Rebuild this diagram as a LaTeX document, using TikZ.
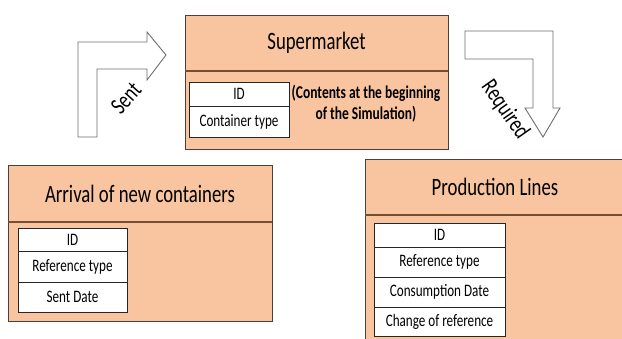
\documentclass[tikz,border=0pt]{standalone}
\usepackage{fontspec}
\setmainfont{Carlito}[FakeStretch=0.75]
\usetikzlibrary{positioning}

\definecolor{peach}{RGB}{248,197,160}
\definecolor{boxline}{RGB}{75,65,58}
\definecolor{divline}{RGB}{120,78,48}
\definecolor{arrowline}{RGB}{110,110,110}

\tikzset{
	boxhead/.style={draw=boxline, fill=peach, anchor=north west, minimum height=56pt, inner sep=0pt, outer sep=0pt, font=\fontsize{25}{28}\selectfont},
	boxbody/.style={draw=boxline, fill=peach, inner sep=0pt, outer sep=0pt},
	divider/.style={draw=divline, line width=1.5pt},
	cell/.style={draw=black!85, fill=white, minimum height=30pt, inner sep=0pt, outer sep=0pt, font=\fontsize{17.5}{19}\selectfont},
	idcell/.style={cell, anchor=north west, minimum height=24pt},
	blockarrow/.style={draw=arrowline, fill=white, line width=0.9pt, line join=miter},
	arrowlabel/.style={font=\fontsize{24}{26}\selectfont, inner sep=0pt}
}

\begin{document}
\begin{tikzpicture}[x=1pt, y=-1pt]

	\useasboundingbox (0,0) rectangle (622,338);
	\clip (0,0) rectangle (622,338);

	% block arrows
	\draw [blockarrow] (78,137) -- (78,42) -- (147,42) -- (147,32) -- (166,55) -- (147,80) -- (147,69) -- (97,69) -- (97,137) -- cycle;
	\node [arrowlabel, rotate=48] (sent) at (126,98) {Sent};
	\draw [blockarrow] (465,31) -- (553,31) -- (553,108) -- (560,108) -- (543,137) -- (525,108) -- (533,108) -- (533,59) -- (465,59) -- cycle;
	\node [arrowlabel, rotate=-55] (required) at (505,110) {Required};

	% Supermarket
	\node [boxhead, minimum width=263pt] (super) at (185,15) {Supermarket};
	\node [boxbody, minimum width=263pt, minimum height=78pt, below=0pt of super] (superbody) {};
	\draw [divider] (super.south west) -- (super.south east);
	\node [idcell, minimum width=100pt] (superid) at (189,82) {ID};
	\node [cell, minimum width=100pt, minimum height=31pt, below=0pt of superid] (supertype) {Container type};
	\node [align=center, inner sep=0pt, font=\fontsize{18}{21}\selectfont\bfseries] (supernote) at (366,104) {(Contents at the beginning\\of the Simulation)};

	% Arrival of new containers
	\node [boxhead, minimum width=264pt, minimum height=57pt] (arrival) at (8,165) {Arrival of new containers};
	\node [boxbody, minimum width=264pt, minimum height=99pt, below=0pt of arrival] (arrivalbody) {};
	\draw [divider] (arrival.south west) -- (arrival.south east);
	\node [idcell, minimum width=109pt, minimum height=23pt] (arrivalid) at (18,228) {ID};
	\node [cell, minimum width=109pt, minimum height=31pt, below=0pt of arrivalid] (arrivalref) {Reference type};
	\node [cell, minimum width=109pt, below=0pt of arrivalref] (arrivaldate) {Sent Date};

	% Production Lines
	\node [boxhead, minimum width=260pt] (prod) at (365,159) {Production Lines};
	\node [boxbody, minimum width=260pt, minimum height=140pt, below=0pt of prod] (prodbody) {};
	\draw [divider] (prod.south west) -- (prod.south east);
	\node [idcell, minimum width=131pt] (prodid) at (374,223) {ID};
	\node [cell, minimum width=131pt, below=0pt of prodid] (prodref) {Reference type};
	\node [cell, minimum width=131pt, below=0pt of prodref] (proddate) {Consumption Date};
	\node [cell, minimum width=131pt, minimum height=29pt, below=0pt of proddate] (prodchange) {Change of reference};

\end{tikzpicture}
\end{document}
